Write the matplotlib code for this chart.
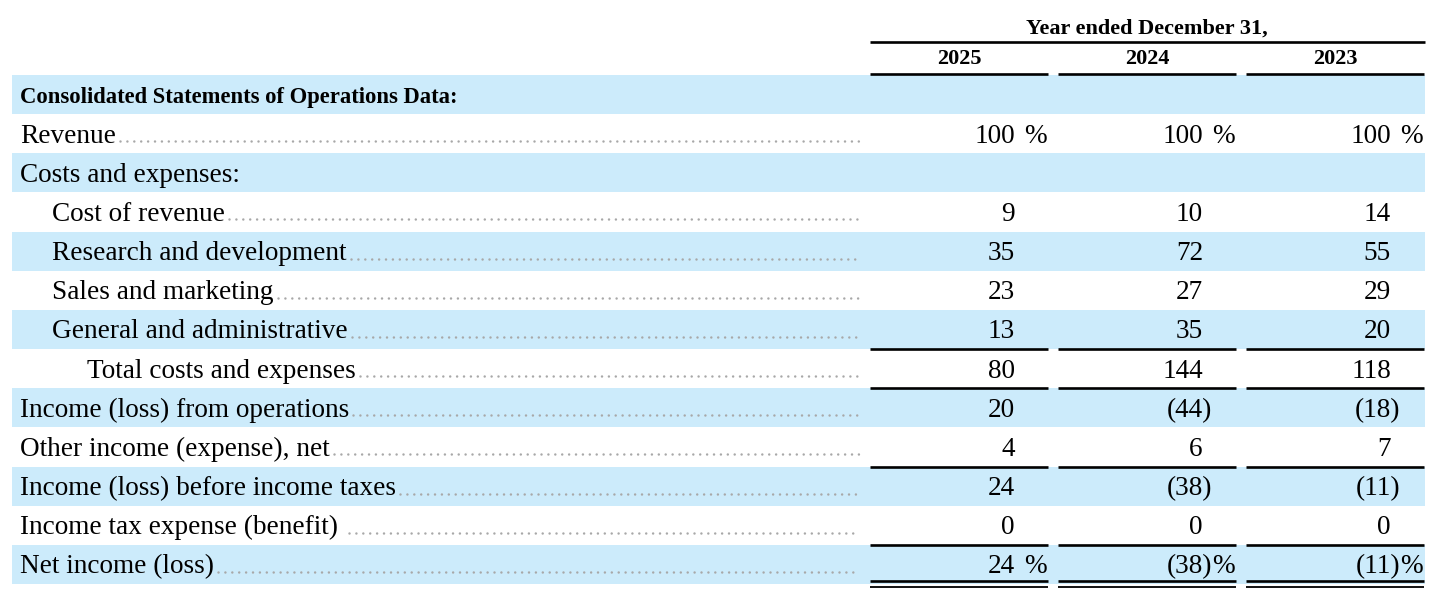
import matplotlib
matplotlib.use('Agg')
import matplotlib.pyplot as plt
from matplotlib.patches import Rectangle

# ---- data ----
header_title = 'Year ended December 31,'
years = ['2025', '2024', '2023']
row_labels = [
    'Consolidated Statements of Operations Data:',
    'Revenue',
    'Costs and expenses:',
    'Cost of revenue',
    'Research and development',
    'Sales and marketing',
    'General and administrative',
    'Total costs and expenses',
    'Income (loss) from operations',
    'Other income (expense), net',
    'Income (loss) before income taxes',
    'Income tax expense (benefit)',
    'Net income (loss)',
]
indent_level = [0, 0, 0, 1, 1, 1, 1, 2, 0, 0, 0, 0, 0]
values_2025 = [None, 100, None, 9, 35, 23, 13, 80, 20, 4, 24, 0, 24]
values_2024 = [None, 100, None, 10, 72, 27, 35, 144, -44, 6, -38, 0, -38]
values_2023 = [None, 100, None, 14, 55, 29, 20, 118, -18, 7, -11, 0, -11]
percent_rows = [1, 12]
rule_above_rows = [7, 8, 10, 12]   # single rule at top of these rows
double_rule_below_rows = [12]

# ---- style ----
W, H = 1456, 613
BLUE = '#CCEBFB'
FONT = 'Liberation Serif'
FS = 19.6
FS_BOLD = 16.3
FS_HEAD = 16.0
GRAY = '#A8A8A8'

fig = plt.figure(figsize=(W / 100, H / 100), dpi=100)
ax = fig.add_axes([0, 0, 1, 1])
ax.set_xlim(0, W)
ax.set_ylim(H, 0)
ax.axis('off')

top0 = 75.0
rh = 39.15
band_x0, band_x1 = 12, 1425
col_right = [1048, 1236, 1424]
col_width = 178
indent_px = [20, 52, 87]
leader_end = 859
digit_offset = 33

# header
ax.text((870 + 1425) / 2 - 1, 33.5, header_title, fontsize=FS_HEAD, family=FONT,
        fontweight='bold', ha='center', va='baseline')
ax.plot([870, 1425], [41.5, 41.5], color='black', lw=1.9, solid_capstyle='butt')
for i, y in enumerate(years):
    r = col_right[i]
    ax.text(r - col_width / 2, 64.5, y, fontsize=FS_HEAD, family=FONT,
            fontweight='bold', ha='center', va='baseline')
    ax.plot([r - col_width, r], [73.5, 73.5], color='black', lw=1.9,
            solid_capstyle='butt')

cols = [values_2025, values_2024, values_2023]

fig.canvas.draw()
renderer = fig.canvas.get_renderer()
probe = ax.text(0, 0, ')', fontsize=FS, family=FONT, alpha=0)
paren_w = probe.get_window_extent(renderer).width
probe.remove()

label_texts = []
for k, lab in enumerate(row_labels):
    top = top0 + k * rh
    if k % 2 == 0:
        ax.add_patch(Rectangle((band_x0, top), band_x1 - band_x0, rh,
                               facecolor=BLUE, edgecolor='none', zorder=0))
    base = top + 28.5
    if k == 0:
        t = ax.text(indent_px[0], base, lab, fontsize=FS_BOLD, family=FONT,
                    fontweight='bold', va='baseline')
    else:
        t = ax.text(indent_px[indent_level[k]], base, lab, fontsize=FS,
                    family=FONT, va='baseline')
    label_texts.append((k, t, base))
    for c in range(3):
        v = cols[c][k]
        if v is None:
            continue
        r = col_right[c]
        digit_r = r - digit_offset
        if v < 0:
            ax.text(digit_r + paren_w, base, '(' + str(-v) + ')', fontsize=FS,
                    family=FONT, ha='right', va='baseline')
        else:
            ax.text(digit_r, base, str(v), fontsize=FS, family=FONT,
                    ha='right', va='baseline')
        if k in percent_rows:
            ax.text(r - 1, base, '%', fontsize=FS, family=FONT, ha='right',
                    va='baseline')
    if k in rule_above_rows:
        for r in col_right:
            ax.plot([r - col_width, r], [top, top], color='black', lw=1.9,
                    solid_capstyle='butt', zorder=3)
    if k in double_rule_below_rows:
        for r in col_right:
            ax.plot([r - col_width, r], [top + rh - 2.5, top + rh - 2.5],
                    color='black', lw=1.9, solid_capstyle='butt', zorder=3)
            ax.plot([r - col_width, r], [top + rh + 3, top + rh + 3],
                    color='black', lw=1.3, solid_capstyle='butt', zorder=3)

fig.canvas.draw()
renderer = fig.canvas.get_renderer()

# dotted leaders
for k, t, base in label_texts:
    if cols[0][k] is None:
        continue
    bb = t.get_window_extent(renderer)
    x0 = bb.x1 + (11 if k == 11 else 4)
    ax.plot([x0, leader_end], [base - 1.5, base - 1.5], color=GRAY, lw=1.8,
            linestyle=(0, (0.01, 2.75)), dash_capstyle='round',
            solid_capstyle='round')

fig.savefig('out.png', dpi=100)
